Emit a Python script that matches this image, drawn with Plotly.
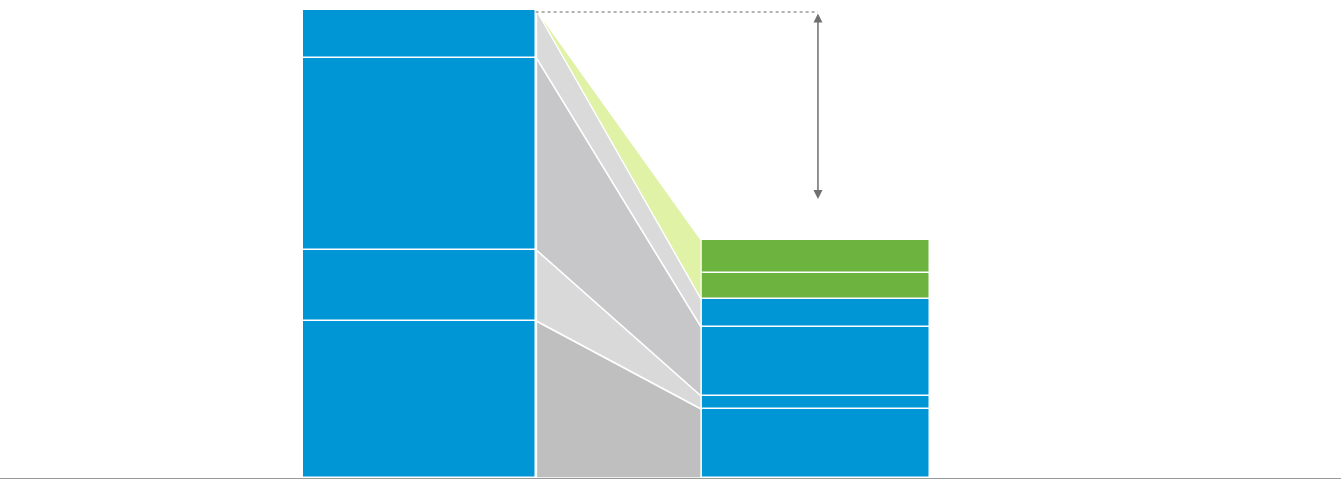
import plotly.graph_objects as go

# Data (bottom to top)
left_values = [33.55, 15.17, 41.03, 10.26]
right_values = [14.74, 2.78, 14.74, 5.98, 5.56, 7.05]
right_colors = ["#0096d6", "#0096d6", "#0096d6", "#0096d6", "#6db33f", "#6db33f"]
left_colors = ["#0096d6"] * 4
band_colors = ["#bfbfbf", "#d9d9d9", "#c7c7c9", "#dadada"]
green_band_color = "#dff2a6"
arrow_top = 99.6
arrow_bottom = 59.6

bar_x = [0.003, 1.004]
bar_widths = [0.588, 0.578]

fig = go.Figure()

def cum(vals):
    out = [0]
    for v in vals:
        out.append(out[-1] + v)
    return out

lc = cum(left_values)
rc = cum(right_values)

x0 = bar_x[0] + bar_widths[0] / 2 + 0.002
x1 = bar_x[1] - bar_widths[1] / 2

# connecting bands
for i, col in enumerate(band_colors):
    xs = [x0, x1, x1, x0, x0]
    ys = [lc[i], rc[i], rc[i + 1], lc[i + 1], lc[i]]
    fig.add_trace(go.Scatter(x=xs, y=ys, fill="toself", fillcolor=col, mode="lines",
                             line=dict(color="white", width=1.5), hoverinfo="skip", showlegend=False))
# green band (new growth)
xs = [x0, x1, x1, x0]
ys = [lc[-1], rc[4], rc[-1], lc[-1]]
fig.add_trace(go.Scatter(x=xs, y=ys, fill="toself", fillcolor=green_band_color, mode="lines",
                         line=dict(color="white", width=1.2), hoverinfo="skip", showlegend=False))

# bars
for i, v in enumerate(left_values):
    fig.add_trace(go.Bar(x=[bar_x[0]], y=[v], base=[lc[i]], width=bar_widths[0],
                         marker=dict(color=left_colors[i], line=dict(color="white", width=1.5)),
                         hoverinfo="skip", showlegend=False))
for i, v in enumerate(right_values):
    fig.add_trace(go.Bar(x=[bar_x[1]], y=[v], base=[rc[i]], width=bar_widths[1],
                         marker=dict(color=right_colors[i], line=dict(color="white", width=1.5)),
                         hoverinfo="skip", showlegend=False))

arrow_x = 1.01

fig.add_shape(type="line", x0=bar_x[0] + bar_widths[0] / 2, x1=arrow_x, y0=arrow_top, y1=arrow_top,
              line=dict(color="#9a9a9a", width=1.5, dash="dot"))
fig.add_annotation(x=arrow_x, y=arrow_bottom, ax=arrow_x, ay=arrow_top, xref="x", yref="y",
                   axref="x", ayref="y", showarrow=True, arrowhead=2, arrowside="end+start",
                   arrowsize=1.2, arrowwidth=1.5, arrowcolor="#707070", text="")

fig.update_layout(
    width=1341, height=479,
    margin=dict(l=0, r=0, t=0, b=1),
    plot_bgcolor="white", paper_bgcolor="white",
    barmode="overlay",
    bargap=0,
    xaxis=dict(range=[-1.0556, 2.3308], showgrid=False, zeroline=False, showticklabels=False,
               ticks="", showline=True, linecolor="#999999", linewidth=1.5),
    yaxis=dict(range=[0, 102.14], visible=False),
)

fig.write_html("out.html")
